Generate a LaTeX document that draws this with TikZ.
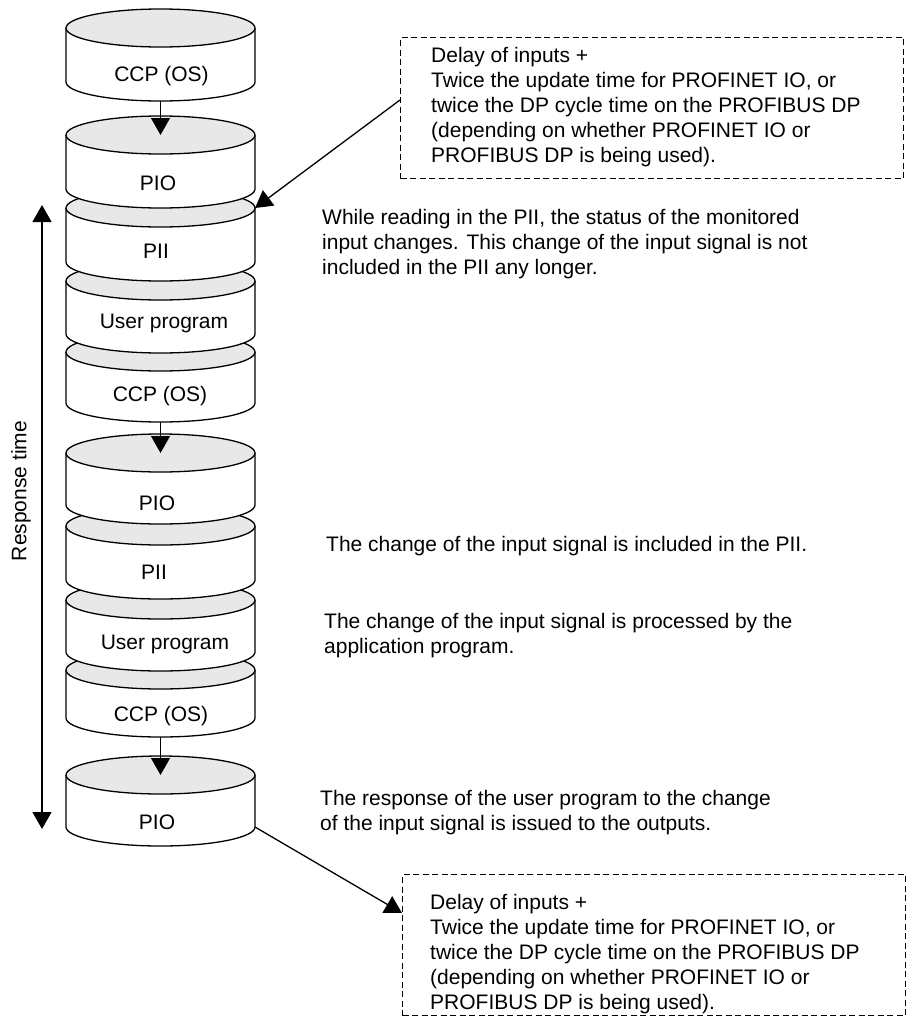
\documentclass[tikz,border=0pt]{standalone}
\usepackage{fontspec}
\setmainfont{Liberation Sans}
\usetikzlibrary{arrows.meta,calc}
\definecolor{topgray}{RGB}{232,232,232}
\tikzset{
  cylline/.style={line width=1.3pt, line join=round},
  tipA/.tip={Triangle[width=19pt,length=17pt]},
  arr/.style={line width=1.3pt, -tipA},
  dblarr/.style={line width=1.3pt, tipA-tipA},
  dashbox/.style={draw, line width=1pt, dash pattern=on 6pt off 3.5pt,
    minimum width=503pt, minimum height=141pt, anchor=north west, inner sep=0pt},
  lbl/.style={anchor=base, inner sep=0pt},
  note/.style={anchor=base west, align=left, inner sep=0pt},
}
\newcommand{\drawcyl}[6]{%
  \fill[white] (66,#2) -- (66,#3) arc[start angle=180,end angle=0,x radius=94.5,y radius=19] -- (255,#2) -- cycle;
  \draw[cylline] (66,#2) -- (66,#3) arc[start angle=180,end angle=0,x radius=94.5,y radius=19] -- (255,#2);
  \filldraw[cylline,fill=topgray] (160.5,#2) ellipse[x radius=94.5,y radius=19];
  \coordinate (#1-t) at (160.5,#2);
  \coordinate (#1-b) at (160.5,#3+19);
  \coordinate (#1-ne) at (255,#2);
  \coordinate (#1-se) at (255,#3);
  \node[lbl] (#1) at (#5,#6) {#4};
}
\begin{document}
\begin{tikzpicture}[x=1pt,y=-1pt,font=\fontsize{21}{25}\selectfont]
\useasboundingbox (0,0) rectangle (906,1017);
% cylinders, drawn from the bottom up so upper ones overlap lower ones
\drawcyl{pioC}{775}{827}{PIO}{157}{829}
\drawcyl{ccpC}{670}{718}{CCP (OS)}{161}{721}
\drawcyl{upB}{600}{652}{User program}{165}{649}
\drawcyl{piiB}{526}{580}{PII}{154}{579}
\drawcyl{pioB}{453}{505}{PIO}{157}{510}
\drawcyl{ccpB}{352}{403}{CCP (OS)}{160}{401}
\drawcyl{upA}{281}{334}{User program}{164}{328}
\drawcyl{piiA}{208}{262}{PII}{156}{258}
\drawcyl{pioA}{135}{189}{PIO}{158}{190}
\drawcyl{ccpA}{28}{82}{CCP (OS)}{161.5}{81}
% arrows between cycles
\draw[arr] (ccpA-b) -- (pioA-t);
\draw[arr] (ccpB-b) -- (pioB-t);
\draw[arr] (ccpC-b) -- (pioC-t);
% response time
\coordinate (rtTop) at (42,205);
\coordinate (rtBot) at (42,829);
\draw[dblarr] (rtTop) -- (rtBot);
\node[rotate=90, inner sep=0pt] (rtlabel) at (21,491) {Response time};
% dashed boxes (base anchor of a multi-line note = baseline of its last line)
\node[dashbox] (box1) at (400,37) {};
\node[note] (box1txt) at (431,162) {Delay of inputs +\\Twice the update time for PROFINET IO, or\\twice the DP cycle time on the PROFIBUS DP\\(depending on whether PROFINET IO or\\PROFIBUS DP is being used).};
\node[dashbox] (box2) at (402,874) {};
\node[note] (box2txt) at (430,1009) {Delay of inputs +\\Twice the update time for PROFINET IO, or\\twice the DP cycle time on the PROFIBUS DP\\(depending on whether PROFINET IO or\\PROFIBUS DP is being used).};
\draw[arr] ($(box1.north west)+(0,63)$) -- (piiA-ne);
\draw[arr] (pioC-se) -- ($(box2.north west)+(0,39)$);
% annotations
\node[note] (n1) at (322,274) {While reading in the PII, the status of the monitored\\input changes. This change of the input signal is not\\included in the PII any longer.};
\node[note] (n2) at (326,551) {The change of the input signal is included in the PII.};
\node[note] (n3) at (324,653) {The change of the input signal is processed by the\\application program.};
\node[note] (n4) at (320,830) {The response of the user program to the change\\of the input signal is issued to the outputs.};
\end{tikzpicture}
\end{document}
